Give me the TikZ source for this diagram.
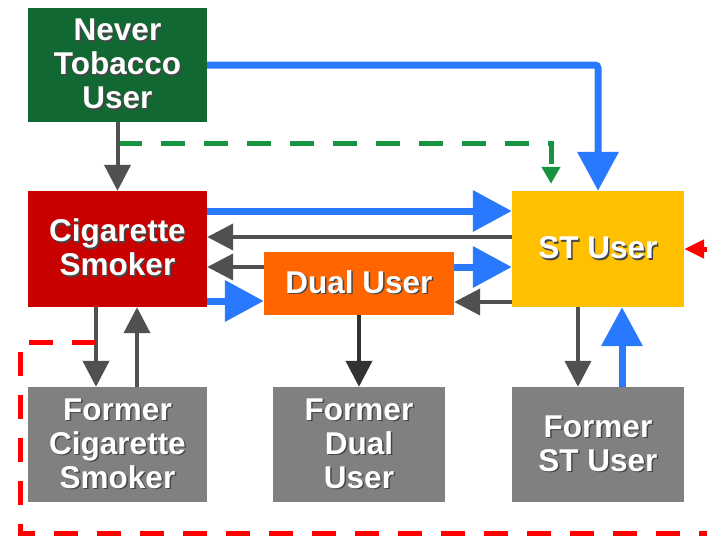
\documentclass[tikz,border=0pt]{standalone}
\usepackage{fontspec}
\setmainfont{Liberation Sans}
\usetikzlibrary{arrows.meta,calc}
\definecolor{NeverGreen}{RGB}{17,104,51}
\definecolor{CigRed}{RGB}{200,0,0}
\definecolor{STYellow}{RGB}{255,192,0}
\definecolor{DualOrange}{RGB}{255,102,0}
\definecolor{FormerGray}{RGB}{128,128,128}
\definecolor{ArrowBlue}{RGB}{41,121,255}
\definecolor{ArrowGray}{RGB}{80,80,80}
\definecolor{ArrowDark}{RGB}{50,50,50}
\definecolor{DashGreen}{RGB}{24,148,64}
\definecolor{DashRed}{RGB}{255,0,0}
\definecolor{TxtShadow}{RGB}{70,70,70}
% Text of the boxes, with its shadow
\newcommand\BoxFont{\fontsize{31.5}{34}\selectfont\bfseries}
\newcommand\ShadowText[1]{%
	\raisebox{-3.5pt}[\height][\depth]{%
	\makebox[0pt][l]{\hspace{1.5pt}\raisebox{-1.5pt}{\textcolor{TxtShadow}{\begin{tabular}{@{}c@{}}#1\end{tabular}}}}%
	\begin{tabular}{@{}c@{}}#1\end{tabular}}}
\tikzset{%
	% Style of the state box
	StateBox/.style={rectangle,inner sep=0,text=white,font=\BoxFont},
	% Style of the main transition
	BlueLink/.style={line width=7,draw=ArrowBlue,-{Triangle[length=39pt,width=40pt]}},
	% Style of the other transitions
	GrayLink/.style={line width=4,draw=ArrowGray,-{Triangle[length=26pt,width=26pt]}},
	% Style of the dashed transitions
	DashLink/.style={line width=5,dash pattern=on 24pt off 19pt},
}
\begin{document}
\begin{tikzpicture}[x=1pt,y=-1pt] % STYLES
\useasboundingbox (0,0) rectangle (707,536);
\clip (0,0) rectangle (707,536);


%~~~~~~~~~~~~~~~~~~~~~~~~~~~~~~~~~~~~~~~~~~~~~~~~~~
% Set Nodes
%~~~~~~~~~~~~~~~~~~~~~~~~~~~~~~~~~~~~~~~~~~~~~~~~~~
\node[StateBox,fill=NeverGreen,minimum width=179,minimum height=114] (never) at (117.5, 65) {\ShadowText{Never\\Tobacco\\User}};

\node[StateBox,fill=CigRed,minimum width=179,minimum height=116] (cig) at (117.5, 249) {\ShadowText{Cigarette\\Smoker}};

\node[StateBox,fill=STYellow,minimum width=172,minimum height=116] (st) at (598, 249) {\ShadowText{ST User}};

\node[StateBox,fill=DualOrange,minimum width=190,minimum height=63] (dual) at (359, 283.5) {\ShadowText{Dual User}};

\node[StateBox,fill=FormerGray,minimum width=179,minimum height=115] (fcig) at (117.5, 444.5) {\ShadowText{Former\\Cigarette\\Smoker}};

\node[StateBox,fill=FormerGray,minimum width=172,minimum height=115] (fdual) at (359, 444.5) {\ShadowText{Former\\Dual\\User}};

\node[StateBox,fill=FormerGray,minimum width=172,minimum height=115] (fst) at (598, 444.5) {\ShadowText{Former\\ST User}};

\coordinate (RedStart) at (96, 342);



%~~~~~~~~~~~~~~~~~~~~~~~~~~~~~~~~~~~~~~~~~~~~~~~~~~
% Set Branches
%~~~~~~~~~~~~~~~~~~~~~~~~~~~~~~~~~~~~~~~~~~~~~~~~~~
%Branch from never to st (dashed)
\draw [DashLink, draw=DashGreen, -{Triangle[length=17pt,width=18pt]}, shorten >=7pt] (never.south |- 0,143) -| (st.north -| 551,0);

%Branch from never to cig
\draw [GrayLink] (never.south) -- (cig.north);

%Branch from never to st
\draw [BlueLink, rounded corners=3] (never.east) -| (st.north);

%Branch from cig to st
\draw [BlueLink] (cig.east |- 0,211) -- (st.west |- 0,211);

%Branch from st to cig
\draw [GrayLink] (st.west |- 0,237) -- (cig.east |- 0,237);

%Branch from dual to cig
\draw [GrayLink] (dual.west |- 0,267) -- (cig.east |- 0,267);

%Branch from dual to st
\draw [BlueLink] (dual.east |- 0,267) -- (st.west |- 0,267);

%Branch from cig to dual
\draw [BlueLink] (cig.east |- 0,301) -- (dual.west |- 0,301);

%Branch from st to dual
\draw [GrayLink] (st.west |- 0,302) -- (dual.east |- 0,302);

%Branch from cig to fcig
\draw [GrayLink] (cig.south -| 96,0) -- (fcig.north -| 96,0);

%Branch from fcig to cig
\draw [GrayLink] (fcig.north -| 137,0) -- (cig.south -| 137,0);

%Branch from dual to fdual
\draw [GrayLink, draw=ArrowDark] (dual.south) -- (fdual.north);

%Branch from st to fst
\draw [GrayLink] (st.south -| 578,0) -- (fst.north -| 578,0);

%Branch from fst to st
\draw [BlueLink] (fst.north -| 622,0) -- (st.south -| 622,0);

%Branch from cig to st (dashed, round the bottom)
\draw [DashLink, draw=DashRed, -{Triangle[length=20pt,width=18pt]}] (RedStart) -| (20, 533) -| (722, 249) -- (st.east);



\end{tikzpicture}
\end{document}
